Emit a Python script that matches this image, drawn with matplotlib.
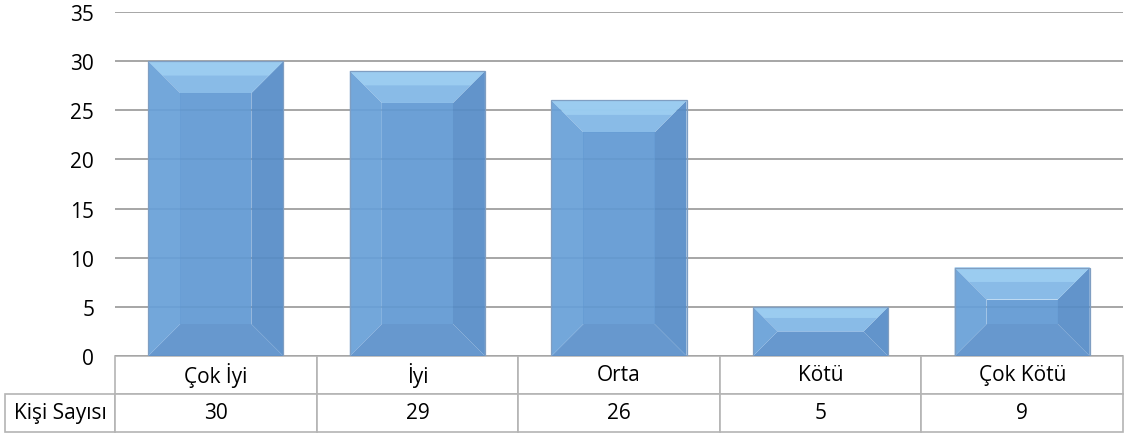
import matplotlib
matplotlib.use('Agg')
import matplotlib.pyplot as plt
from matplotlib.patches import Polygon
from matplotlib.table import Table

categories = ['Çok İyi', 'İyi', 'Orta', 'Kötü', 'Çok Kötü']
counts = [30, 29, 26, 5, 9]
row_label = 'Kişi Sayısı'
yticks = [0, 5, 10, 15, 20, 25, 30, 35]

plt.rcParams['font.family'] = ['Open Sans', 'DejaVu Sans']
plt.rcParams['font.size'] = 15

fig = plt.figure(figsize=(11.24, 4.39), dpi=100)
ax = fig.add_axes([115 / 1124, 1 - 357 / 439, 1008 / 1124, 344 / 439])

x = list(range(len(categories)))
bars = ax.bar(x, counts, width=0.67, color='none', edgecolor='none', zorder=3)
ax.set_xlim(-0.5, len(categories) - 0.5)
ax.set_ylim(0, 35)
ax.set_yticks(yticks)
ax.yaxis.grid(True, color='#A6A6A6', linewidth=1.4, zorder=0)
ax.set_xticks([])
ax.tick_params(axis='y', length=0, pad=15, labelsize=15)
for s in ax.spines.values():
    s.set_visible(False)

# bevel look like the office chart: four trapezoids per bar
inv = ax.transData.inverted()
for b in bars:
    x0, y0 = ax.transData.transform((b.get_x(), 0))
    x1, y1 = ax.transData.transform((b.get_x() + b.get_width(), b.get_height()))
    d = min(32, (y1 - y0) / 2, (x1 - x0) / 2)
    outer = [(x0, y0), (x1, y0), (x1, y1), (x0, y1)]
    inner = [(x0 + d, y0 + d), (x1 - d, y0 + d), (x1 - d, y1 - d), (x0 + d, y1 - d)]
    sides = [
        ([outer[0], outer[1], inner[1], inner[0]], '#5B90CB'),
        ([outer[1], outer[2], inner[2], inner[1]], '#568CC7'),
        ([outer[2], outer[3], inner[3], inner[2]], '#80B6E6'),
        ([outer[3], outer[0], inner[0], inner[3]], '#68A0D8'),
        (inner, '#6199D3'),
    ]
    for pts, col in sides:
        ax.add_patch(Polygon(inv.transform(pts), closed=True, facecolor=col,
                             edgecolor='none', alpha=0.93, zorder=4))
    # lighter strip along the very top
    mid = (y1 - d * 0.45)
    ax.add_patch(Polygon(inv.transform([(x0, y1), (x1, y1), (x1 - d * 0.45, mid), (x0 + d * 0.45, mid)]),
                         closed=True, facecolor='#A2D3F4', edgecolor='none', alpha=0.75, zorder=4))
    ax.add_patch(Polygon(inv.transform(outer), closed=True, facecolor='none',
                         edgecolor='#7F9EC2', linewidth=0.9, zorder=5))

# data table under the plot
lab_w = 110 / 1008
col_w = 1 / len(categories)
row_h = 38 / 344
tbl = Table(ax, bbox=[-lab_w, -2 * row_h, 1 + lab_w, 2 * row_h])
tbl.add_cell(0, 0, lab_w, row_h, text='', loc='center').visible_edges = ''
tbl.add_cell(1, 0, lab_w, row_h, text=row_label, loc='center')
for i, cat in enumerate(categories):
    tbl.add_cell(0, i + 1, col_w, row_h, text=cat, loc='center')
    tbl.add_cell(1, i + 1, col_w, row_h, text=str(counts[i]), loc='center')
tbl.auto_set_font_size(False)
tbl.set_fontsize(15)
for key, cell in tbl.get_celld().items():
    cell.set_edgecolor('#B4B4B4')
    cell.set_linewidth(1.2)
ax.add_table(tbl)

fig.savefig('out.png', dpi=100)
